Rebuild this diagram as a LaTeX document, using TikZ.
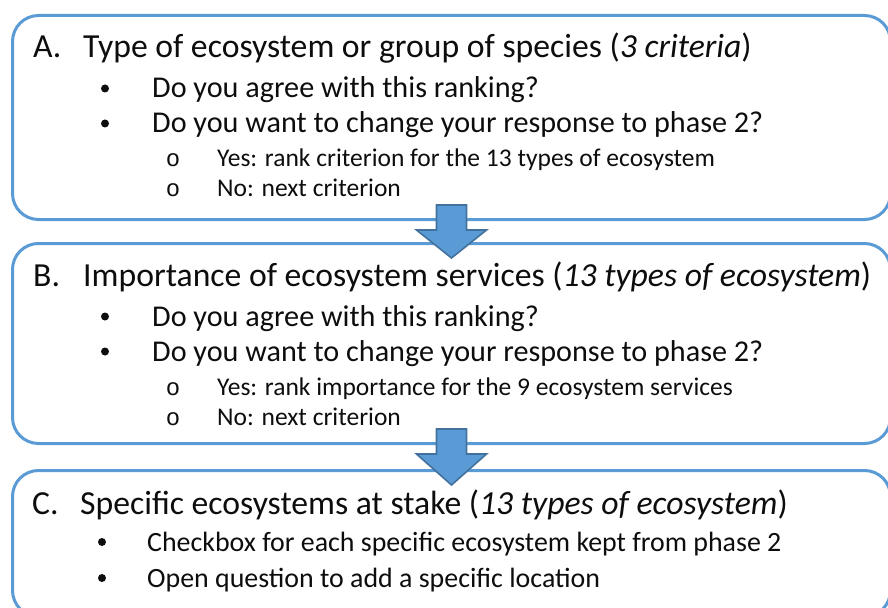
\documentclass[tikz,border=0pt]{standalone}
\usepackage{fontspec}
\setmainfont{Carlito}
\newfontfamily\subfont{Liberation Mono}
\usetikzlibrary{calc}
\definecolor{panelblue}{HTML}{5B9BD5}
\definecolor{arrowedge}{HTML}{41719C}
\definecolor{ink}{HTML}{0D0D0D}

\begin{document}
\begin{tikzpicture}[x=1bp, y=-1bp,
        panel/.style={draw=panelblue, line width=3bp, rounded corners=26bp, anchor=north west, inner sep=0pt},
        blockarrow/.style={draw=arrowedge, fill=panelblue, line width=1.6bp, line join=miter},
        head/.style={anchor=base west, inner sep=0pt, text=ink, font=\fontsize{33.8}{40}\selectfont},
        item/.style={anchor=base west, inner sep=0pt, text=ink, font=\fontsize{30.3}{36}\selectfont},
        citem/.style={anchor=base west, inner sep=0pt, text=ink, font=\fontsize{28}{34}\selectfont},
        subitem/.style={anchor=base west, inner sep=0pt, text=ink, font=\fontsize{25.6}{30}\selectfont},
        dot/.style={circle, fill=ink, inner sep=0pt, minimum size=8bp},
        circ/.style={anchor=base, inner sep=0pt, text=ink, font=\subfont\fontsize{24}{28}\selectfont}]
        \useasboundingbox (0,0) rectangle (888,608);

        \foreach \n/\t/\h in {A/14/204, B/242/200, C/469/146} {
            \node[panel, minimum width=878bp, minimum height=\h bp] (box\n) at (11,\t) {};
        }

        \foreach \u/\v in {boxA/boxB, boxB/boxC} {
            \draw[blockarrow] ($(\u.south)+(-15,-16)$) -- ++(30,0) -- ++(0,25) -- ++(20,0)
                -- ($(\v.north)+(0,16)$) -- ($(\u.south)+(-35,9)$) -- ++(20,0) -- cycle;
        }

        \node[head] (labA) at (33,58) {A.};
        \node[head] (headA) at (83,58) {Type of ecosystem or group of species (\textit{3 criteria})};
        \node[dot] (dotA1) at (105,88.5) {};
        \node[item] (itemA1) at (152,98) {Do you agree with this ranking?};
        \node[dot] (dotA2) at (105,123.5) {};
        \node[item] (itemA2) at (152,133) {Do you want to change your response to phase 2?};
        \node[circ] (circA1) at (173,167) {o};
        \node[subitem] (subA1) at (217,167) {Yes: rank criterion for the 13 types of ecosystem};
        \node[circ] (circA2) at (173,197) {o};
        \node[subitem] (subA2) at (217,197) {No: next criterion};

        \node[head] (labB) at (33,286) {B.};
        \node[head] (headB) at (83,286) {Importance of ecosystem services (\textit{13 types of ecosystem})};
        \node[dot] (dotB1) at (105,316.5) {};
        \node[item] (itemB1) at (152,326) {Do you agree with this ranking?};
        \node[dot] (dotB2) at (105,351.5) {};
        \node[item] (itemB2) at (152,361) {Do you want to change your response to phase 2?};
        \node[circ] (circB1) at (173,395) {o};
        \node[subitem] (subB1) at (217,395) {Yes: rank importance for the 9 ecosystem services};
        \node[circ] (circB2) at (173,425) {o};
        \node[subitem] (subB2) at (217,425) {No: next criterion};

        \node[head] (labC) at (32,514) {C.};
        \node[head] (headC) at (80,514) {Specific ecosystems at stake (\textit{13 types of ecosystem})};
        \node[dot] (dotC1) at (102,542) {};
        \node[citem] (itemC1) at (147,551) {Checkbox for each specific ecosystem kept from phase 2};
        \node[dot] (dotC2) at (102,578) {};
        \node[citem] (itemC2) at (147,587) {Open question to add a specific location};
\end{tikzpicture}
\end{document}
